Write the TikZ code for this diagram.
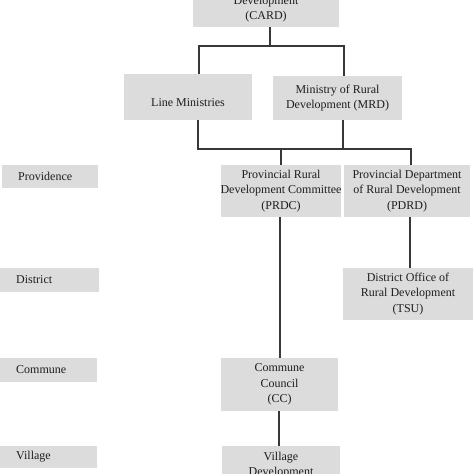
\documentclass[tikz,border=0pt]{standalone}
\usepackage{fontspec}
\setmainfont{Liberation Serif}
\begin{document}
\begin{tikzpicture}[x=1bp,y=-1bp,
  box/.style={fill=boxgray,draw=none,inner sep=0pt,align=center,text=txtgray,
    font=\fontsize{12bp}{15.2bp}\selectfont},
  lvl/.style={fill=boxgray,draw=none,inner ysep=0pt,inner xsep=16bp,align=left,text=txtgray,
    anchor=west,font=\fontsize{12bp}{15.2bp}\selectfont},
  conn/.style={draw=linegray,line width=1.2bp}]
\definecolor{boxgray}{HTML}{DCDCDC}
\definecolor{txtgray}{HTML}{1E1E1E}
\definecolor{linegray}{HTML}{383838}
\useasboundingbox (0,0) rectangle (474,474);
\clip (0,0) rectangle (474,474);
\fill[white] (0,0) rectangle (474,474);
% boxes
\node[box,minimum width=146bp,minimum height=36.5bp] (card) at (266,8.75) {Development\\(CARD)};
\node[box,minimum width=128bp,minimum height=46bp,
  label={[text=txtgray,font=\fontsize{12bp}{15.2bp}\selectfont,yshift=-6bp]center:Line Ministries}] (lm) at (188,97) {};
\node[box,minimum width=129bp,minimum height=44bp] (mrd) at (337.5,98) {Ministry of Rural\\Development (MRD)};
\node[box,minimum width=118bp,minimum height=52bp] (prdc) at (281,191) {Provincial Rural\\Development Committee\\(PRDC)};
\node[box,minimum width=126bp,minimum height=52bp] (pdrd) at (407,191) {Provincial Department\\of Rural Development\\(PDRD)};
\node[box,minimum width=130bp,minimum height=52bp] (tsu) at (408,294) {District Office of\\Rural Development\\(TSU)};
\node[box,minimum width=117bp,minimum height=53bp] (cc) at (279.5,384.5) {Commune\\Council\\(CC)};
\node[box,minimum width=118bp,minimum height=39bp] (vdc) at (281,465.5) {Village\\Development};
% level labels
\node[lvl,text width=64bp,minimum height=23bp] (prov) at (2,176.5) {Providence};
\node[lvl,text width=67bp,minimum height=24bp] (dist) at (0,280) {District};
\node[lvl,text width=65bp,minimum height=24bp] (comm) at (0,370) {Commune};
\node[lvl,text width=65bp,minimum height=22bp] (vill) at (0,457) {Village};
% connectors
\coordinate (j0) at (270,46);
\coordinate (jl) at (199,46);
\coordinate (jr) at (344,46);
\draw[conn] (card.south -| j0) -- (j0);
\draw[conn] (lm.north -| jl) -- (jl) -- (jr) -- (mrd.north -| jr);
\coordinate (k1) at (198,149);
\coordinate (k2) at (343,149);
\coordinate (k3) at (281,149);
\coordinate (k4) at (411,149);
\draw[conn] (lm.south -| k1) -- (k1) -- (k4) -- (pdrd.north -| k4);
\draw[conn] (mrd.south -| k2) -- (k2);
\draw[conn] (k3) -- (prdc.north -| k3);
\coordinate (m1) at (280,0);
\draw[conn] (prdc.south -| m1) -- (cc.north -| m1);
\coordinate (m2) at (410,0);
\draw[conn] (pdrd.south -| m2) -- (tsu.north -| m2);
\coordinate (m3) at (279,0);
\draw[conn] (cc.south -| m3) -- (vdc.north -| m3);
\end{tikzpicture}
\end{document}
